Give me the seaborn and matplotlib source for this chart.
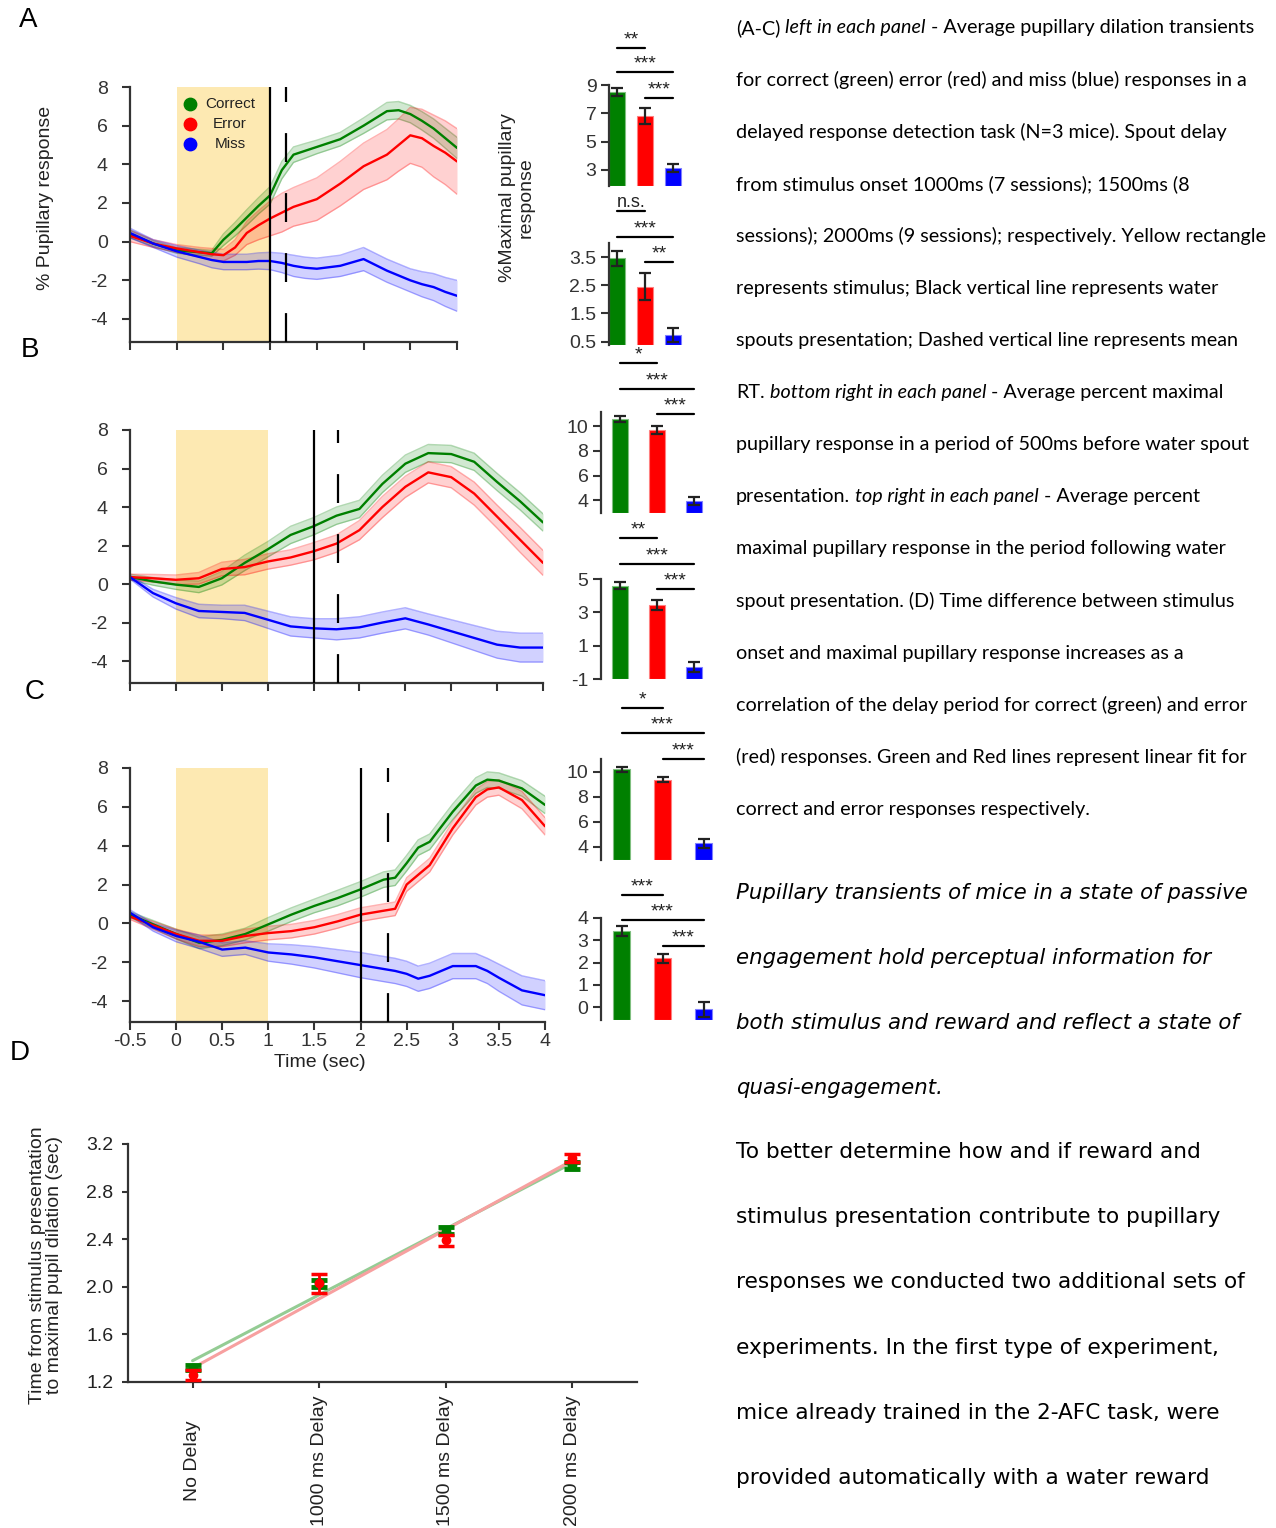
import numpy as np
import matplotlib
matplotlib.use("Agg")
import matplotlib.pyplot as plt
import seaborn as sns

sns.set_style("ticks")
plt.rcParams['font.family'] = ['Liberation Sans', 'DejaVu Sans']
plt.rcParams['axes.unicode_minus'] = False

# ---------------- data ----------------
# panel A: spout at 1000 ms
t_a = [-0.5, -0.25, 0, 0.25, 0.375, 0.5, 0.625, 0.75, 0.875, 1.0, 1.125, 1.25, 1.375, 1.5, 1.75,
       2.0, 2.25, 2.375, 2.5, 2.625, 2.75, 2.875, 3.0]
correct_a = [0.4, -0.1, -0.45, -0.55, -0.6, 0.1, 0.65, 1.25, 1.85, 2.4, 3.7, 4.5, 4.7, 4.9, 5.3,
             6.0, 6.75, 6.8, 6.6, 6.25, 5.85, 5.35, 4.85]
correct_a_sem = [0.2, 0.15, 0.15, 0.15, 0.15, 0.3, 0.35, 0.4, 0.42, 0.45, 0.45, 0.4, 0.38, 0.35, 0.35,
                 0.4, 0.45, 0.45, 0.45, 0.48, 0.5, 0.52, 0.55]
error_a = [0.3, -0.1, -0.35, -0.55, -0.65, -0.7, -0.3, 0.45, 0.85, 1.2, 1.5, 1.8, 2.0, 2.2, 3.0,
           3.9, 4.5, 5.0, 5.5, 5.35, 4.95, 4.6, 4.15]
error_a_sem = [0.3, 0.2, 0.2, 0.25, 0.3, 0.3, 0.4, 0.6, 0.75, 0.9, 1.0, 1.0, 1.05, 1.1, 1.15,
               1.2, 1.3, 1.35, 1.45, 1.5, 1.6, 1.65, 1.7]
miss_a = [0.45, -0.1, -0.5, -0.8, -0.95, -1.05, -1.05, -1.05, -1.0, -1.0, -1.1, -1.25, -1.35, -1.4, -1.25,
          -0.9, -1.5, -1.75, -2.0, -2.2, -2.35, -2.6, -2.8]
miss_a_sem = [0.25, 0.2, 0.3, 0.35, 0.4, 0.4, 0.4, 0.4, 0.42, 0.45, 0.5, 0.55, 0.55, 0.55, 0.55,
              0.6, 0.6, 0.6, 0.6, 0.65, 0.7, 0.75, 0.8]

# panel B: spout at 1500 ms
t_b = [-0.5, -0.25, 0, 0.25, 0.5, 0.75, 1.0, 1.25, 1.5, 1.75, 2.0, 2.25, 2.5, 2.75, 3.0, 3.25, 3.5, 3.75, 4.0]
correct_b = [0.36, 0.14, -0.03, -0.15, 0.3, 1.1, 1.8, 2.55, 3.0, 3.55, 3.9, 5.2, 6.25, 6.8, 6.75, 6.35, 5.3, 4.3, 3.2]
correct_b_sem = [0.15, 0.2, 0.25, 0.3, 0.35, 0.4, 0.4, 0.45, 0.45, 0.45, 0.45, 0.45, 0.45, 0.45, 0.45, 0.45, 0.45, 0.45, 0.45]
error_b = [0.36, 0.3, 0.22, 0.3, 0.78, 0.88, 1.17, 1.38, 1.7, 2.1, 2.8, 4.0, 5.05, 5.8, 5.55, 4.7, 3.5, 2.3, 1.1]
error_b_sem = [0.15, 0.2, 0.25, 0.3, 0.35, 0.4, 0.4, 0.4, 0.45, 0.45, 0.5, 0.55, 0.55, 0.55, 0.55, 0.6, 0.6, 0.65, 0.65]
miss_b = [0.36, -0.47, -1.0, -1.4, -1.45, -1.5, -1.85, -2.2, -2.3, -2.35, -2.25, -2.0, -1.78, -2.1, -2.45, -2.8, -3.15, -3.3, -3.3]
miss_b_sem = [0.1, 0.2, 0.3, 0.35, 0.35, 0.4, 0.45, 0.5, 0.5, 0.55, 0.55, 0.55, 0.55, 0.55, 0.6, 0.65, 0.7, 0.75, 0.75]

# panel C: spout at 2000 ms
t_c = [-0.5, -0.25, 0, 0.25, 0.5, 0.75, 1.0, 1.25, 1.5, 1.75, 2.0, 2.25, 2.375, 2.5, 2.625, 2.75, 3.0, 3.25, 3.375, 3.5, 3.75, 4.0]
correct_c = [0.45, -0.05, -0.55, -1.0, -0.85, -0.55, -0.05, 0.45, 0.9, 1.3, 1.75, 2.25, 2.35, 3.1, 3.9, 4.2, 5.75, 7.1, 7.4, 7.35, 6.95, 6.1]
correct_c_sem = [0.15, 0.2, 0.25, 0.3, 0.3, 0.3, 0.35, 0.35, 0.35, 0.4, 0.4, 0.4, 0.4, 0.4, 0.4, 0.4, 0.4, 0.4, 0.4, 0.4, 0.4, 0.45]
error_c = [0.35, -0.1, -0.55, -0.9, -0.9, -0.65, -0.5, -0.4, -0.2, 0.1, 0.45, 0.65, 0.75, 2.0, 2.5, 3.0, 4.9, 6.5, 6.9, 7.0, 6.35, 5.0]
error_c_sem = [0.15, 0.2, 0.25, 0.3, 0.3, 0.35, 0.35, 0.35, 0.35, 0.35, 0.35, 0.35, 0.35, 0.35, 0.35, 0.35, 0.35, 0.4, 0.4, 0.4, 0.45, 0.45]
miss_c = [0.55, -0.2, -0.65, -0.95, -1.35, -1.25, -1.5, -1.6, -1.75, -1.95, -2.15, -2.35, -2.45, -2.6, -2.85, -2.7, -2.2, -2.2, -2.45, -2.8, -3.45, -3.7]
miss_c_sem = [0.15, 0.2, 0.3, 0.35, 0.35, 0.35, 0.45, 0.5, 0.55, 0.6, 0.65, 0.65, 0.65, 0.65, 0.65, 0.65, 0.65, 0.65, 0.65, 0.7, 0.75, 0.75]

spout_times = [1.0, 1.5, 2.0]
mean_rt = [1.17, 1.77, 2.3]

# bars: % maximal pupillary response (correct, error, miss)
post_a = [8.5, 6.8, 3.15]; post_a_err = [0.3, 0.55, 0.3]
pre_a = [3.45, 2.45, 0.75]; pre_a_err = [0.25, 0.47, 0.25]
post_b = [10.6, 9.7, 3.95]; post_b_err = [0.25, 0.3, 0.3]
pre_b = [4.6, 3.45, -0.25]; pre_b_err = [0.2, 0.3, 0.3]
post_c = [10.2, 9.35, 4.25]; post_c_err = [0.2, 0.2, 0.38]
pre_c = [3.4, 2.2, -0.1]; pre_c_err = [0.22, 0.2, 0.35]

sig_post_a = ["**", "***", "***"]
sig_pre_a = ["n.s.", "***", "**"]
sig_post_b = ["*", "***", "***"]
sig_pre_b = ["**", "***", "***"]
sig_post_c = ["*", "***", "***"]
sig_pre_c = ["***", "***", "***"]

# panel D
delay_labels = ["No Delay", "1000 ms Delay", "1500 ms Delay", "2000 ms Delay"]
peak_correct = [1.32, 2.03, 2.47, 3.02]
peak_correct_err = [0.02, 0.03, 0.03, 0.03]
peak_error = [1.26, 2.03, 2.39, 3.08]
peak_error_err = [0.04, 0.08, 0.045, 0.035]

caption = [
    [("(A-C)", False), ("left in each panel", True), ("- Average pupillary dilation transients", False)],
    [("for correct (green) error (red) and miss (blue) responses in a", False)],
    [("delayed response detection task (N=3 mice). Spout delay", False)],
    [("from stimulus onset 1000ms (7 sessions); 1500ms (8", False)],
    [("sessions); 2000ms (9 sessions); respectively. Yellow rectangle", False)],
    [("represents stimulus; Black vertical line represents water", False)],
    [("spouts presentation; Dashed vertical line represents mean", False)],
    [("RT.", False), ("bottom right in each panel", True), ("- Average percent maximal", False)],
    [("pupillary response in a period of 500ms before water spout", False)],
    [("presentation.", False), ("top right in each panel", True), ("- Average percent", False)],
    [("maximal pupillary response in the period following water", False)],
    [("spout presentation. (D) Time difference between stimulus", False)],
    [("onset and maximal pupillary response increases as a", False)],
    [("correlation of the delay period for correct (green) and error", False)],
    [("(red) responses. Green and Red lines represent linear fit for", False)],
    [("correct and error responses respectively.", False)],
]
title_lines = ["Pupillary transients of mice in a state of passive",
               "engagement hold perceptual information for",
               "both stimulus and reward and reflect a state of",
               "quasi-engagement."]
body_lines = ["To better determine how and if reward and",
              "stimulus presentation contribute to pupillary",
              "responses we conducted two additional sets of",
              "experiments. In the first type of experiment,",
              "mice already trained in the 2-AFC task, were",
              "provided automatically with a water reward"]

# ---------------- style ----------------
GREEN, RED, BLUE = "#008000", "#ff0000", "#0000ff"
STIM = "#fde9b2"
INK = "#333333"
FS = 14
W, H = 1276, 1528

fig = plt.figure(figsize=(W / 100, H / 100), dpi=100)


def add_ax(l, t, r, b):
    return fig.add_axes([l / W, 1 - b / H, (r - l) / W, (b - t) / H])


def style_spines(ax, keep=("left", "bottom")):
    for side in ["left", "right", "top", "bottom"]:
        ax.spines[side].set_visible(side in keep)
        ax.spines[side].set_color(INK)
        ax.spines[side].set_linewidth(1.6)


def trace_panel(ax, t, series, xmax, lo, spout, rt):
    t = np.array(t)
    ax.axvspan(0, 1, color=STIM, lw=0, zorder=0)
    for m, s, c in series:
        m, s = np.array(m), np.array(s)
        ax.fill_between(t, m - s, m + s, color=c, alpha=0.18, lw=0, zorder=1)
        ax.plot(t, m - s, color=c, alpha=0.3, lw=1.0, zorder=1)
        ax.plot(t, m + s, color=c, alpha=0.3, lw=1.0, zorder=1)
        sns.lineplot(x=t, y=m, color=c, lw=1.7, ax=ax, zorder=2)
    ax.axvline(spout, color="black", lw=1.6, zorder=3)
    ax.axvline(rt, color="black", lw=1.6, ls=(0, (13, 14)), zorder=3)
    ax.set_xlim(-0.5, xmax)
    ax.set_ylim(lo, 8)
    ax.set_yticks([-4, -2, 0, 2, 4, 6, 8])
    ax.set_xticks(np.arange(-0.5, xmax + 0.01, 0.5))
    ax.set_xticklabels([])
    ax.tick_params(length=6, width=1.5, color=INK, labelcolor=INK, labelsize=FS)
    ax.tick_params(axis="y", pad=10)
    style_spines(ax)


def bar_panel(ax, vals, errs, lo, hi, ticks, xl, xr, width, sigs, sig_y, h_px):
    x = np.arange(3)
    v = np.array(vals)
    ax.bar(x, v - lo, bottom=lo, width=width, color=[GREEN, RED, BLUE],
           edgecolor=["#7fbf7f", "#ff8080", "#8080ff"], lw=0.8)
    ax.errorbar(x, v, yerr=errs, fmt="none", ecolor="#222222", elinewidth=1.6,
                capsize=4.5, capthick=1.6)
    ax.set_ylim(lo, hi)
    ax.set_xlim(xl, xr)
    ax.set_yticks(ticks)
    ax.set_xticks([])
    ax.tick_params(axis="y", length=6, width=1.5, color=INK, labelcolor=INK,
                   labelsize=FS, pad=3)
    style_spines(ax, keep=("left",))
    tr = ax.get_xaxis_transform()
    pairs = [(0, 1), (0, 2), (1, 2)]
    for (i, j), lab, yf in zip(pairs, sigs, sig_y):
        ax.plot([i, j], [yf, yf], transform=tr, color="black", lw=1.6, clip_on=False)
        ax.text((i + j) / 2, yf + 4 / h_px, lab, transform=tr, ha="center",
                va="baseline", fontsize=14 if lab != "n.s." else 13,
                color="#222222", clip_on=False)


# ---------------- traces ----------------
ax_a = add_ax(130, 87, 457, 342)
trace_panel(ax_a, t_a, [(correct_a, correct_a_sem, GREEN), (error_a, error_a_sem, RED),
                        (miss_a, miss_a_sem, BLUE)], 3.0, -5.19, spout_times[0], mean_rt[0])
for k, (lab, c) in enumerate(zip(["Correct", "Error", "Miss"], [GREEN, RED, BLUE])):
    yf = 1 - (104 + 20 * k - 87) / 255
    ax_a.scatter([0.183], [yf], s=80, color=c, transform=ax_a.transAxes, zorder=4)
    ax_a.text(0.306, yf, lab, transform=ax_a.transAxes, ha="center", va="center",
              fontsize=11, color="#222222")

ax_b = add_ax(130, 430, 543, 683)
trace_panel(ax_b, t_b, [(correct_b, correct_b_sem, GREEN), (error_b, error_b_sem, RED),
                        (miss_b, miss_b_sem, BLUE)], 4.0, -5.14, spout_times[1], mean_rt[1])

ax_c = add_ax(130, 768, 545, 1022)
trace_panel(ax_c, t_c, [(correct_c, correct_c_sem, GREEN), (error_c, error_c_sem, RED),
                        (miss_c, miss_c_sem, BLUE)], 4.0, -5.08, spout_times[2], mean_rt[2])
ax_c.set_xticklabels(["-0.5", "0", "0.5", "1", "1.5", "2", "2.5", "3", "3.5", "4"])
ax_c.tick_params(axis="x", pad=2)
ax_c.set_xlabel("Time (sec)", fontsize=FS, color="#222222", labelpad=3)
ax_c.xaxis.label.set_x(0.458)

fig.text(46 / W, 1 - 198 / H, "% Pupillary response", rotation=90, ha="center",
         va="center", fontsize=FS, color="#222222")

# ---------------- bars ----------------
ax = add_ax(609, 85, 685, 186)
bar_panel(ax, post_a, post_a_err, 1.87, 9.0, [3, 5, 7, 9], -0.29, 2.43, 0.57,
          sig_post_a, [1.366, 1.129, 0.871], 101)
ax = add_ax(609, 243, 685, 345)
bar_panel(ax, pre_a, pre_a_err, 0.38, 4.0, [0.5, 1.5, 2.5, 3.5], -0.29, 2.43, 0.57,
          sig_pre_a, [1.314, 1.059, 0.814], 102)
ax = add_ax(601, 412, 710, 513)
bar_panel(ax, post_b, post_b_err, 2.98, 11.15, [4, 6, 8, 10], -0.51, 2.43, 0.43,
          sig_post_b, [1.485, 1.228, 0.98], 101)
ax = add_ax(601, 579, 710, 679)
bar_panel(ax, pre_b, pre_b_err, -1.0, 5.0, [-1, 1, 3, 5], -0.51, 2.43, 0.43,
          sig_pre_b, [1.41, 1.15, 0.90], 100)
ax = add_ax(601, 759, 715, 860)
bar_panel(ax, post_c, post_c_err, 2.93, 11.0, [4, 6, 8, 10], -0.5, 2.28, 0.41,
          sig_post_c, [1.505, 1.257, 1.0], 101)
ax = add_ax(601, 918, 715, 1020)
bar_panel(ax, pre_c, pre_c_err, -0.58, 4.0, [0, 1, 2, 3, 4], -0.5, 2.28, 0.41,
          sig_pre_c, [1.225, 0.98, 0.725], 102)

fig.text(517 / W, 1 - 198 / H, "%Maximal pupillary\nresponse", rotation=90,
         ha="center", va="center", fontsize=FS, color="#222222", linespacing=1.1)

# ---------------- panel D ----------------
ax_d = add_ax(128, 1144, 637, 1382)
xd = np.arange(len(delay_labels))
sns.regplot(x=xd, y=peak_correct, ax=ax_d, ci=None, scatter=False,
            line_kws=dict(color="#94cc94", lw=2.2))
sns.regplot(x=xd, y=peak_error, ax=ax_d, ci=None, scatter=False,
            line_kws=dict(color="#f7a0a0", lw=2.2))
ax_d.errorbar(xd, peak_correct, yerr=peak_correct_err, fmt="o", color=GREEN, ms=6,
              elinewidth=2, capsize=6, capthick=3.5, zorder=3)
ax_d.errorbar(xd, peak_error, yerr=peak_error_err, fmt="o", color=RED, ms=6,
              elinewidth=2, capsize=6, capthick=2.5, zorder=4)
ax_d.set_xlim(-0.51, 3.51)
ax_d.set_ylim(1.2, 3.2)
ax_d.set_yticks([1.2, 1.6, 2.0, 2.4, 2.8, 3.2])
ax_d.set_yticklabels(["1.2", "1.6", "2.0", "2.4", "2.8", "3.2"])
ax_d.set_xticks(xd)
ax_d.set_xticklabels(delay_labels, rotation=90, va="center")
ax_d.set_xlabel("")
ax_d.set_ylabel("")
ax_d.tick_params(length=4.5, width=1.5, color=INK, labelcolor="#222222", labelsize=FS)
ax_d.tick_params(axis="y", pad=6)
ax_d.tick_params(axis="x", pad=52)
style_spines(ax_d)
fig.text(46 / W, 1 - 1265 / H, "Time from stimulus presentation\nto maximal pupil dilation (sec)",
         rotation=90, ha="center", va="center", fontsize=FS, color="#222222", linespacing=1.05)

# ---------------- panel letters ----------------
for lab, (px, py) in zip("ABCD", [(28, 20), (30, 350), (35, 692), (20, 1053)]):
    fig.text(px / W, 1 - py / H, lab, ha="center", va="center", fontsize=20, color="black")

# ---------------- text column ----------------
renderer = fig.canvas.get_renderer()


def text_width(s, **kw):
    t = fig.text(0, 0, s, **kw)
    w = t.get_window_extent(renderer).width
    t.remove()
    return w


def fit_size(s, target, **kw):
    return 10 * target / text_width(s, fontsize=10, **kw)


def draw_line(segs, x0, y, **kw):
    space = text_width("n n", **kw) - text_width("nn", **kw)
    x = x0
    for k, (s, it) in enumerate(segs):
        if k:
            x += space
        t = fig.text(x / W, 1 - y / H, s, ha="left", va="center",
                     style="italic" if it else "normal", color="black", **kw)
        x += t.get_window_extent(renderer).width


cap_font = "Lato"
cap_size = fit_size(caption[4][0][0], 529, family=cap_font)
for k, segs in enumerate(caption):
    draw_line(segs, 736, 28 + 52.1 * k, family=cap_font, fontsize=cap_size)

big_font = "DejaVu Sans"
it_size = fit_size(title_lines[0], 511, family=big_font, style="italic")
for k, s in enumerate(title_lines):
    draw_line([(s, True)], 736, 893 + 65 * k, family=big_font, fontsize=it_size)
body_size = fit_size(body_lines[2], 507, family=big_font)
for k, s in enumerate(body_lines):
    draw_line([(s, False)], 736, 1152 + 65.2 * k, family=big_font, fontsize=body_size)

fig.savefig("out.png", dpi=100)
